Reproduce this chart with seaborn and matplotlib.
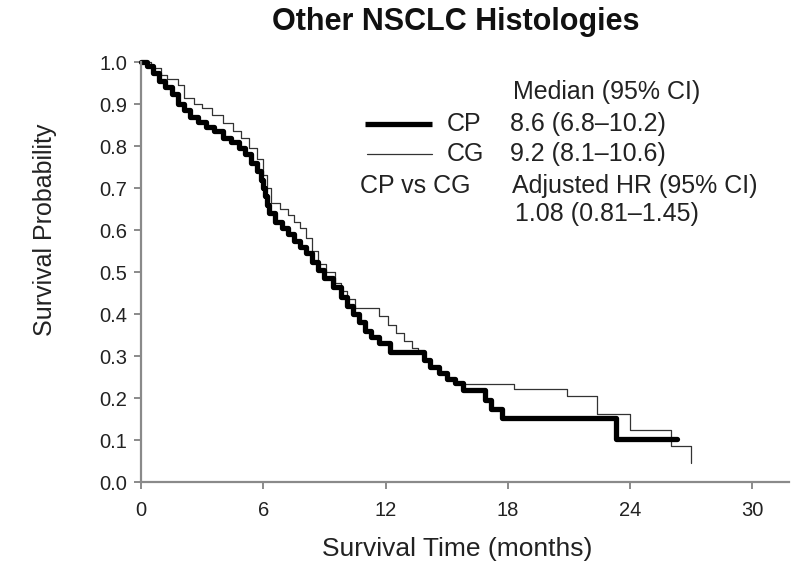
import matplotlib
matplotlib.use("Agg")
import matplotlib.pyplot as plt
import seaborn as sns
import pandas as pd

sns.set_theme(style="white")
plt.rcParams['font.family'] = ['Liberation Sans', 'DejaVu Sans']

title = "Other NSCLC Histologies"
x_label = "Survival Time (months)"
y_label = "Survival Probability"
x_ticks = [0, 6, 12, 18, 24, 30]
y_ticks = [0.0, 0.1, 0.2, 0.3, 0.4, 0.5, 0.6, 0.7, 0.8, 0.9, 1.0]

cp_time = [0, 0.3, 0.6, 0.9, 1.2, 1.5, 1.8, 2.1, 2.4, 2.8, 3.2, 3.6, 4.0, 4.4, 4.8,
           5.1, 5.4, 5.7, 5.9, 6.0, 6.1, 6.2, 6.3, 6.6, 6.9, 7.2, 7.5, 7.8, 8.1,
           8.4, 8.7, 9.0, 9.4, 9.8, 10.1, 10.4, 10.7, 11.0, 11.3, 11.7, 12.2,
           13.9, 14.2, 14.6, 15.0, 15.4, 15.8, 16.9, 17.2, 17.7, 23.3, 26.3]
cp_surv = [1.0, 0.99, 0.975, 0.955, 0.94, 0.925, 0.90, 0.885, 0.87, 0.857, 0.845,
           0.835, 0.82, 0.81, 0.795, 0.78, 0.76, 0.74, 0.72, 0.70, 0.68, 0.66, 0.64,
           0.62, 0.605, 0.59, 0.575, 0.56, 0.545, 0.525, 0.505, 0.485, 0.465, 0.44,
           0.42, 0.40, 0.38, 0.36, 0.345, 0.33, 0.31, 0.29, 0.275, 0.26, 0.245,
           0.235, 0.22, 0.195, 0.175, 0.152, 0.102, 0.102]

cg_time = [0, 0.5, 1.0, 1.3, 1.8, 2.1, 2.6, 3.0, 3.5, 4.0, 4.5, 4.9, 5.3, 5.7, 6.0,
           6.2, 6.4, 6.8, 7.2, 7.5, 7.8, 8.1, 8.4, 8.7, 9.1, 9.5, 9.8, 10.1, 10.5,
           11.7, 12.1, 12.5, 12.9, 13.3, 13.6, 13.9, 14.2, 14.6, 15.0, 15.4, 18.3,
           20.9, 22.4, 24.0, 26.0, 27.0]
cg_surv = [1.0, 0.985, 0.97, 0.96, 0.945, 0.915, 0.90, 0.89, 0.875, 0.855, 0.835,
           0.82, 0.795, 0.77, 0.73, 0.70, 0.665, 0.65, 0.635, 0.62, 0.605, 0.58,
           0.55, 0.52, 0.50, 0.475, 0.455, 0.435, 0.415, 0.395, 0.375, 0.355,
           0.335, 0.32, 0.307, 0.29, 0.275, 0.26, 0.245, 0.233, 0.222, 0.205,
           0.162, 0.125, 0.085, 0.045]

cp_df = pd.DataFrame({"time": cp_time, "surv": cp_surv})
cg_df = pd.DataFrame({"time": cg_time, "surv": cg_surv})

fig = plt.figure(figsize=(7.91, 5.83), dpi=100)
ax = fig.add_axes([141 / 791, 101 / 583, 648 / 791, 420 / 583])

sns.lineplot(data=cg_df, x="time", y="surv", ax=ax, estimator=None, sort=False,
             drawstyle="steps-post", color="#333333", linewidth=0.9, clip_on=False)
sns.lineplot(data=cp_df, x="time", y="surv", ax=ax, estimator=None, sort=False,
             drawstyle="steps-post", color="black", linewidth=3.8, clip_on=False)

ax.set_xlim(0, 31.8)
ax.set_ylim(0, 1.0)
ax.set_xticks(x_ticks)
ax.set_yticks(y_ticks)
ax.set_xticklabels([str(t) for t in x_ticks])
ax.set_yticklabels([f"{t:.1f}" for t in y_ticks])
for s in ["top", "right"]:
    ax.spines[s].set_visible(False)
for s in ["left", "bottom"]:
    ax.spines[s].set_color("#8a8a8a")
    ax.spines[s].set_linewidth(1.6)
ax.tick_params(axis="both", which="major", direction="out", length=5, width=1.4,
               color="#8a8a8a", labelsize=14.5, labelcolor="#222222", pad=5)
ax.tick_params(axis="y", left=True)
ax.tick_params(axis="x", bottom=True, pad=9)

ax.set_xlabel(x_label, fontsize=19, color="#222222")
ax.xaxis.set_label_coords(0.488, -0.132)
ax.set_ylabel(y_label, fontsize=18, color="#222222")
ax.yaxis.set_label_coords(-0.13, 0.6)
fig.text(456 / 791, 1 - 22 / 583, title, ha="center", va="center",
         fontsize=22, fontweight="bold", color="#111111")

fs = 18
tc = "#222222"
ax.text(0.574, 0.929, "Median (95% CI)", transform=ax.transAxes, fontsize=fs,
        color=tc, ha="left", va="center")
ax.plot([0.346, 0.449], [0.852, 0.852], transform=ax.transAxes, color="black",
        linewidth=3.8, solid_capstyle="butt")
ax.text(0.472, 0.852, "CP", transform=ax.transAxes, fontsize=fs, color=tc,
        ha="left", va="center")
ax.text(0.569, 0.852, "8.6 (6.8\u201310.2)", transform=ax.transAxes, fontsize=fs,
        color=tc, ha="left", va="center")
ax.plot([0.349, 0.449], [0.781, 0.781], transform=ax.transAxes, color="#333333",
        linewidth=0.9)
ax.text(0.472, 0.781, "CG", transform=ax.transAxes, fontsize=fs, color=tc,
        ha="left", va="center")
ax.text(0.569, 0.781, "9.2 (8.1\u201310.6)", transform=ax.transAxes, fontsize=fs,
        color=tc, ha="left", va="center")
ax.text(0.338, 0.705, "CP vs CG", transform=ax.transAxes, fontsize=fs, color=tc,
        ha="left", va="center")
ax.text(0.573, 0.705, "Adjusted HR (95% CI)", transform=ax.transAxes, fontsize=fs,
        color=tc, ha="left", va="center")
ax.text(0.577, 0.638, "1.08 (0.81\u20131.45)", transform=ax.transAxes, fontsize=fs,
        color=tc, ha="left", va="center")

fig.savefig("out.png", dpi=100)
